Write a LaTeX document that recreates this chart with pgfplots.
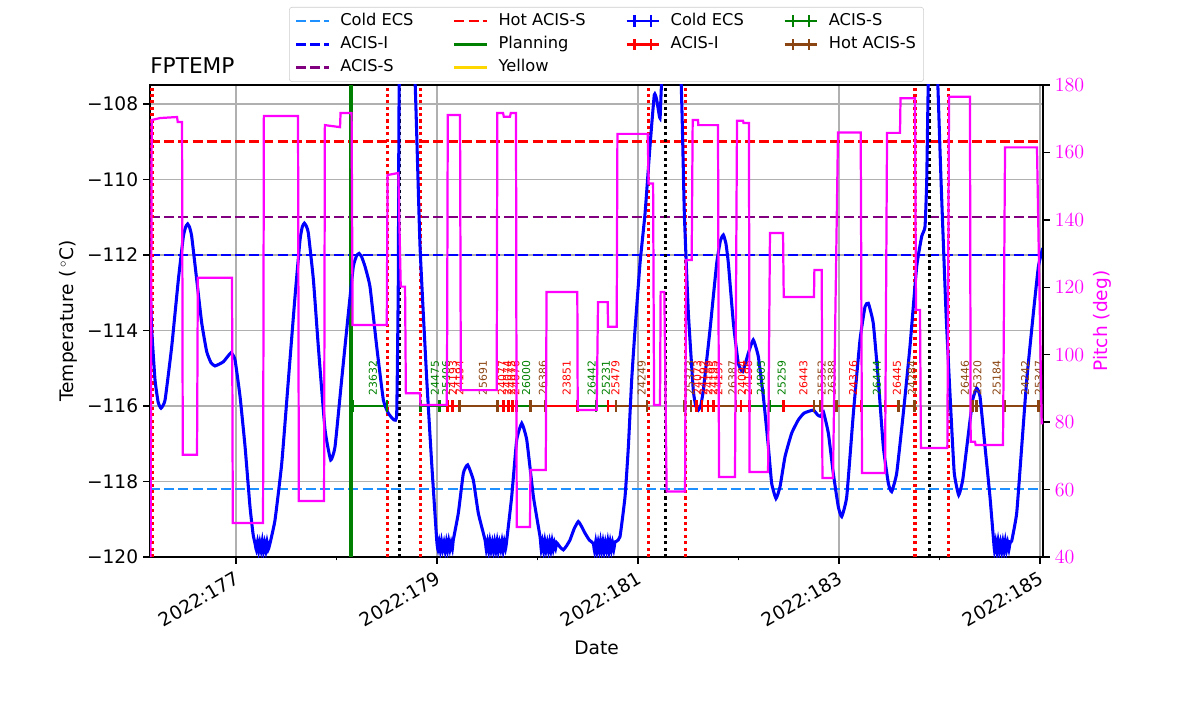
\documentclass[border=0pt]{standalone}
\usepackage{fontspec}
\setmainfont{DejaVu Sans}
\usepackage{pgfplots}
\pgfplotsset{compat=1.18}
\definecolor{mgreen}{HTML}{008000}
\definecolor{mbrown}{HTML}{8B4513}
\definecolor{dodger}{HTML}{1E90FF}
\definecolor{mpurple}{HTML}{800080}
\definecolor{mgold}{HTML}{FFD700}
\definecolor{gridgray}{HTML}{B0B0B0}
\definecolor{mmag}{HTML}{FF00FF}
\pgfplotsset{
  limline/.style={legend image code/.code={\draw[##1] (0pt,0pt) -- (23.4pt,0pt);}},
  ebleg/.style={legend image code/.code={\draw[##1,line width=1.8pt] (0pt,0pt) -- (23.4pt,0pt);
      \draw[##1,line width=1.8pt] (5.8pt,-4.2pt) -- (5.8pt,4.2pt) (17.6pt,-4.2pt) -- (17.6pt,4.2pt);}},
  obs/.style={line width=1.8pt, mark=|, mark size=4.2pt, mark options={solid,line width=1.8pt}, unbounded coords=jump, forget plot},
  obslab/.style={only marks, mark=none, point meta=explicit symbolic, nodes near coords, forget plot,
      every node near coord/.style={rotate=90, anchor=west, inner sep=0pt, font=\fontsize{7.8}{9}\selectfont, text=#1}},
}
\begin{document}
\begin{tikzpicture}
\begin{axis}[
  scale only axis, width=642.96pt, height=339.84pt, at={(0,0)}, anchor=south west,
  xmin=176.144, xmax=185.03, ymin=-120, ymax=-107.5,
  xtick={177,179,181,183,185},
  xticklabels={2022:177,2022:179,2022:181,2022:183,2022:185},
  minor xtick={178,180,182,184},
  ytick={-120,-118,-116,-114,-112,-110,-108},
  yticklabels={−120,−118,−116,−114,−112,−110,−108},
  xtick pos=bottom, ytick pos=left,
  tick align=outside, major tick length=5pt, minor tick length=2.5pt,
  tick style={black, line width=1.1pt},
  axis line style={line width=1.1pt},
  grid=major, major grid style={gridgray, line width=1.1pt},
  ticklabel style={font=\fontsize{13.4}{16}\selectfont},
  xticklabel style={rotate=30, anchor=north east},
  label style={font=\fontsize{13.4}{16}\selectfont},
  xlabel={Date}, ylabel={Temperature (\,$^\circ$C)},
  xlabel style={yshift=-2pt},
  title={FPTEMP},
  title style={at={(0,1)}, anchor=base west, yshift=2.6pt, inner sep=0pt, font=\fontsize{15.6}{18}\selectfont},
  legend columns=4,
  legend cell align=left,
  legend style={at={(0.5112,1.1653)}, anchor=north, draw=black!20, rounded corners=2pt,
     font=\fontsize{11.7}{14}\selectfont, row sep=2.6pt, inner xsep=4pt, inner ysep=3pt,
     nodes={inner sep=1.5pt, text height=8.7pt, text depth=2.4pt},
     /tikz/every even column/.append style={column sep=27pt},
     /tikz/every odd column/.append style={column sep=6pt}},
]
% legend (column-major order of the reference, written row by row)
\addlegendimage{limline, dodger, line width=1.8pt, dash pattern=on 7.2pt off 3pt}
\addlegendentry{Cold ECS}
\addlegendimage{limline, red, line width=1.8pt, dash pattern=on 7.2pt off 3pt}
\addlegendentry{Hot ACIS-S}
\addlegendimage{ebleg, blue}
\addlegendentry{Cold ECS}
\addlegendimage{ebleg, mgreen}
\addlegendentry{ACIS-S}
\addlegendimage{limline, blue, line width=1.8pt, dash pattern=on 7.2pt off 3pt}
\addlegendentry{ACIS-I}
\addlegendimage{limline, mgreen, line width=1.8pt}
\addlegendentry{Planning}
\addlegendimage{ebleg, red}
\addlegendentry{ACIS-I}
\addlegendimage{ebleg, mbrown}
\addlegendentry{Hot ACIS-S}
\addlegendimage{limline, mpurple, line width=1.8pt, dash pattern=on 7.2pt off 3pt}
\addlegendentry{ACIS-S}
\addlegendimage{limline, mgold, line width=1.8pt}
\addlegendentry{Yellow}
\addlegendimage{empty legend}
\addlegendentry{}
\addlegendimage{empty legend}
\addlegendentry{}

% limit lines
\addplot[forget plot, dodger, line width=1.9pt, dash pattern=on 7.2pt off 3pt] coordinates {(176.144,-118.2) (185.03,-118.2)};
\addplot[forget plot, blue, line width=1.9pt, dash pattern=on 7.2pt off 3pt] coordinates {(176.144,-112) (185.03,-112)};
\addplot[forget plot, mpurple, line width=1.9pt, dash pattern=on 7.2pt off 3pt] coordinates {(176.144,-111) (185.03,-111)};
\addplot[forget plot, red, line width=1.9pt, dash pattern=on 7.2pt off 3pt] coordinates {(176.144,-109) (185.03,-109)};

% vertical lines
\addplot[forget plot, mgreen, line width=2.2pt] coordinates {(178.144,-120) (178.144,-107.5)};
\addplot[forget plot, red, line width=2.2pt, dash pattern=on 2.2pt off 2.4pt, unbounded coords=jump] coordinates {
 (176.164,-120) (176.164,-107.5) (176.164,nan)
 (178.507,-120) (178.507,-107.5) (178.507,nan)
 (178.836,-120) (178.836,-107.5) (178.836,nan)
 (181.100,-120) (181.100,-107.5) (181.100,nan)
 (181.468,-120) (181.468,-107.5) (181.468,nan)
 (183.756,-120) (183.756,-107.5) (183.756,nan)
 (184.085,-120) (184.085,-107.5)};
\addplot[forget plot, black, line width=2.2pt, dash pattern=on 2.2pt off 2.4pt, unbounded coords=jump] coordinates {
 (178.622,-120) (178.622,-107.5) (178.622,nan)
 (181.269,-120) (181.269,-107.5) (181.269,nan)
 (183.905,-120) (183.905,-107.5)};

% obsid segments
\addplot[obs, mgreen] coordinates {
 (178.161,-116) (178.500,-116) (178.5,nan)
 (178.838,-116) (179.023,-116) (179.102,-116) (179.102,nan)
 (179.793,-116) (179.932,-116) (179.932,nan)
 (180.396,-116) (180.582,-116) (180.699,-116) (180.699,nan)
 (182.107,-116) (182.306,-116) (182.446,-116) (182.446,nan)
 (183.226,-116) (183.458,-116)};
\addplot[obs, red] coordinates {
 (179.102,-116) (179.156,-116) (179.222,-116) (179.222,nan)
 (179.600,-116) (179.660,-116) (179.709,-116) (179.753,-116) (179.793,-116) (179.793,nan)
 (180.075,-116) (180.396,-116) (180.396,nan)
 (180.699,-116) (180.781,-116) (180.781,nan)
 (181.527,-116) (181.583,-116) (181.639,-116) (181.694,-116) (181.750,-116) (181.806,-116) (181.806,nan)
 (181.975,-116) (182.025,-116) (182.107,-116) (182.107,nan)
 (182.446,-116) (182.751,-116) (182.751,nan)
 (182.977,-116) (183.226,-116) (183.226,nan)
 (183.458,-116) (183.590,-116)};
\addplot[obs, mbrown] coordinates {
 (179.222,-116) (179.600,-116) (179.600,nan)
 (179.932,-116) (180.075,-116) (180.075,nan)
 (180.781,-116) (181.087,-116) (181.087,nan)
 (181.458,-116) (181.527,-116) (181.527,nan)
 (181.806,-116) (181.975,-116) (181.975,nan)
 (182.751,-116) (182.811,-116) (182.977,-116) (182.977,nan)
 (183.590,-116) (183.749,-116) (183.749,nan)
 (184.085,-116) (184.328,-116) (184.370,-116) (184.652,-116) (184.983,-116) (185.03,-116)};

% obsid labels
\addplot[obslab=mgreen] table[meta=label] {
x y label
178.363 -115.72 23632
178.980 -115.72 24475
179.090 -115.72 25406
179.886 -115.72 26000
180.539 -115.72 26442
180.682 -115.72 25231
182.224 -115.72 24805
182.430 -115.72 25259
183.378 -115.72 26444
};
\addplot[obslab=red] table[meta=label] {
x y label
179.159 -115.72 24193
179.224 -115.72 24194
179.647 -115.72 24077
179.697 -115.72 24074
179.741 -115.72 24075
179.781 -115.72 24076
180.291 -115.72 23851
180.776 -115.72 25479
181.592 -115.72 24073
181.652 -115.72 24192
181.701 -115.72 24189
181.751 -115.72 24195
181.801 -115.72 24197
182.035 -115.72 24094
182.095 -115.72 24196
182.645 -115.72 26443
183.142 -115.72 24376
183.577 -115.72 26445
};
\addplot[obslab=mbrown] table[meta=label] {
x y label
179.458 -115.72 25691
180.055 -115.72 26386
181.037 -115.72 24249
181.517 -115.72 25373
181.940 -115.72 26387
182.828 -115.72 25352
182.930 -115.72 26388
183.726 -115.72 24284
184.254 -115.72 26446
184.378 -115.72 25320
184.569 -115.72 25184
184.851 -115.72 24242
184.990 -115.72 25347
};

% FPTEMP model
\addplot[forget plot, blue, line width=2.2pt, smooth, tension=0.25] coordinates {
(176.144,-112.66) (176.161,-113.99) (176.194,-115.31) (176.225,-115.90) (176.254,-116.06) (176.294,-115.84)
(176.360,-114.43) (176.426,-112.66) (176.476,-111.51) (176.500,-111.25) (176.519,-111.18) (176.538,-111.27) (176.559,-111.51) (176.609,-112.66)
(176.659,-113.81) (176.708,-114.56) (176.750,-114.85) (176.791,-114.94) (176.874,-114.83) (176.950,-114.59) (176.990,-114.78)
(177.040,-115.75) (177.090,-117.08) (177.139,-118.67) (177.170,-119.40) (177.189,-119.64)
(177.201,-119.80) (177.213,-119.60) (177.225,-119.84) (177.237,-119.62) (177.249,-119.82) (177.261,-119.58)
(177.273,-119.85) (177.285,-119.63) (177.297,-119.83) (177.309,-119.60) (177.321,-119.80) (177.338,-119.64)
(177.388,-119.02) (177.455,-117.52) (177.521,-115.31) (177.587,-113.10) (177.637,-111.60) (177.660,-111.25) (177.680,-111.16)
(177.700,-111.24) (177.720,-111.43) (177.770,-112.66) (177.819,-114.43) (177.886,-116.64) (177.942,-117.43) (177.985,-117.08)
(178.051,-115.31) (178.118,-113.54) (178.167,-112.31) (178.200,-112.02) (178.224,-111.96) (178.250,-112.05) (178.284,-112.31) (178.333,-112.84)
(178.400,-114.43) (178.466,-115.84) (178.515,-116.19) (178.572,-116.37) (178.599,-116.19) (178.615,-112.66)
(178.625,-107.36) (178.700,-103.5) (178.781,-107.36) (178.831,-111.78) (178.898,-115.31) (178.947,-117.52)
(178.997,-119.55)
(179.009,-119.80) (179.021,-119.60) (179.033,-119.83) (179.045,-119.58) (179.057,-119.80) (179.069,-119.62)
(179.081,-119.84) (179.093,-119.60) (179.105,-119.82) (179.117,-119.58) (179.129,-119.80) (179.141,-119.62)
(179.153,-119.78) (179.162,-119.55)
(179.212,-118.84) (179.262,-117.78) (179.305,-117.56) (179.361,-117.96) (179.411,-118.84) (179.478,-119.55)
(179.490,-119.80) (179.502,-119.60) (179.514,-119.84) (179.526,-119.58) (179.538,-119.82) (179.550,-119.62)
(179.562,-119.85) (179.574,-119.60) (179.586,-119.82) (179.598,-119.58) (179.610,-119.84) (179.622,-119.62)
(179.634,-119.80) (179.646,-119.58) (179.658,-119.83) (179.670,-119.60) (179.682,-119.78) (179.694,-119.55)
(179.743,-118.40) (179.793,-116.90) (179.843,-116.46) (179.893,-116.90) (179.959,-118.40) (180.025,-119.46)
(180.037,-119.80) (180.049,-119.60) (180.061,-119.84) (180.073,-119.58) (180.085,-119.82) (180.097,-119.62)
(180.109,-119.84) (180.121,-119.60) (180.133,-119.82) (180.145,-119.58) (180.157,-119.80) (180.169,-119.62)
(180.181,-119.76) (180.191,-119.62)
(180.225,-119.74) (180.257,-119.81) (180.290,-119.70) (180.323,-119.55) (180.365,-119.25) (180.406,-119.06)
(180.440,-119.20) (180.473,-119.37) (180.515,-119.55) (180.555,-119.64)
(180.567,-119.84) (180.579,-119.60) (180.591,-119.85) (180.603,-119.62) (180.615,-119.84) (180.627,-119.58)
(180.639,-119.83) (180.651,-119.60) (180.663,-119.85) (180.675,-119.62) (180.687,-119.82) (180.699,-119.58)
(180.711,-119.84) (180.723,-119.60) (180.735,-119.82) (180.747,-119.62) (180.759,-119.80) (180.771,-119.60)
(180.788,-119.58)
(180.821,-119.46) (180.871,-118.40) (180.904,-117.08) (180.937,-115.31) (180.970,-113.99) (181.020,-112.22)
(181.070,-110.90) (181.119,-109.13) (181.162,-107.76) (181.186,-107.89) (181.219,-108.38) (181.236,-107.36)
(181.330,-103.5) (181.428,-107.36) (181.461,-110.90) (181.501,-113.54) (181.550,-115.58) (181.575,-116.00) (181.600,-116.11)
(181.625,-115.98) (181.650,-115.58) (181.716,-113.99) (181.783,-112.22) (181.820,-111.62) (181.849,-111.47) (181.875,-111.70) (181.899,-112.22) (181.949,-113.81)
(181.998,-114.87) (182.042,-115.09) (182.098,-114.60) (182.147,-114.25) (182.197,-114.69) (182.247,-115.75)
(182.297,-117.08) (182.330,-118.05) (182.373,-118.45) (182.413,-118.14) (182.463,-117.34) (182.529,-116.72)
(182.595,-116.37) (182.652,-116.19) (182.744,-116.11) (182.788,-116.24) (182.821,-116.28) (182.844,-116.15)
(182.894,-116.72) (182.943,-117.78) (182.993,-118.67) (183.027,-118.93) (183.077,-118.40) (183.143,-116.19)
(183.209,-114.25) (183.259,-113.37) (183.292,-113.28) (183.341,-113.81) (183.391,-115.31) (183.441,-117.08)
(183.491,-118.05) (183.524,-118.27) (183.574,-117.78) (183.640,-116.19) (183.706,-114.43) (183.773,-112.31)
(183.823,-111.51) (183.856,-111.25) (183.873,-110.01) (183.889,-107.36) (183.935,-103.5) (183.982,-107.36)
(184.015,-110.01) (184.065,-113.54) (184.114,-116.19) (184.147,-117.78) (184.191,-118.36) (184.231,-117.96)
(184.280,-116.90) (184.330,-115.84) (184.370,-115.53) (184.403,-115.75) (184.453,-117.08) (184.502,-118.40)
(184.535,-119.46)
(184.547,-119.82) (184.559,-119.60) (184.571,-119.85) (184.583,-119.58) (184.595,-119.84) (184.607,-119.62)
(184.619,-119.85) (184.631,-119.60) (184.643,-119.83) (184.655,-119.58) (184.667,-119.82) (184.679,-119.62)
(184.691,-119.80) (184.703,-119.60) (184.718,-119.58)
(184.768,-118.84) (184.818,-117.08) (184.868,-115.31) (184.934,-113.54) (184.984,-112.31) (185.027,-111.82)
};
\end{axis}

\begin{axis}[
  scale only axis, width=642.96pt, height=339.84pt, at={(0,0)}, anchor=south west,
  xmin=176.144, xmax=185.03, ymin=40, ymax=180,
  axis x line=none, axis y line*=right, xtick=\empty,
  ytick={40,60,80,100,120,140,160,180},
  tick align=outside, major tick length=5pt,
  tick style={black, line width=1.1pt},
  axis line style={line width=1.1pt},
  yticklabel style={font=\fontsize{13.4}{16}\selectfont, text=mmag},
  ylabel={Pitch (deg)},
  ylabel style={font=\fontsize{13.4}{16}\selectfont, text=mmag},
]
\addplot[mmag, line width=1.6pt] coordinates {
(176.150,40) (176.161,169.6) (176.244,170.2) (176.413,170.5) (176.420,169.0) (176.463,169.0) (176.470,70.3)
(176.612,70.3) (176.620,122.8) (176.960,122.8) (176.968,50.1) (177.269,50.1) (177.277,170.8) (177.617,170.8)
(177.625,56.6) (177.876,56.6) (177.884,168.1) (178.035,167.5) (178.040,171.7) (178.150,171.7) (178.160,108.8)
(178.500,108.8) (178.508,153.3) (178.615,153.9) (178.639,120.2) (178.682,120.2) (178.690,88.6) (178.831,88.6)
(178.835,85.1) (179.097,85.1) (179.100,99.0) (179.107,171.1) (179.229,171.1) (179.237,89.5) (179.594,89.5)
(179.600,171.7) (179.657,171.7) (179.665,170.6) (179.726,170.6) (179.734,171.7) (179.786,171.7) (179.793,48.9)
(179.925,48.9) (179.930,65.8) (180.082,65.8) (180.090,118.6) (180.396,118.6) (180.400,83.6) (180.589,83.6)
(180.602,115.6) (180.698,115.6) (180.702,108.3) (180.788,108.3) (180.795,165.5) (181.097,165.5) (181.105,150.8)
(181.150,150.8) (181.160,85.1) (181.219,85.1) (181.225,118.6) (181.262,118.6) (181.285,59.4) (181.468,59.4)
(181.478,128.1) (181.534,128.1) (181.544,169.6) (181.597,169.6) (181.600,168.1) (181.796,168.1) (181.806,63.7)
(181.965,63.7) (181.985,169.4) (182.045,169.4) (182.050,168.7) (182.104,168.7) (182.110,65.2) (182.294,65.2)
(182.313,136.1) (182.443,136.1) (182.450,117.1) (182.751,117.1) (182.755,125.1) (182.828,125.1) (182.835,63.4)
(182.940,63.4) (182.990,165.9) (183.216,165.9) (183.229,64.9) (183.458,64.9) (183.478,165.8) (183.607,165.8)
(183.612,176.1) (183.756,176.1) (183.766,113.3) (183.806,113.3) (183.815,72.3) (184.078,72.3) (184.095,176.5)
(184.303,176.5) (184.310,74.2) (184.353,74.2) (184.360,73.2) (184.632,73.2) (184.652,161.5) (184.970,161.5)
(185.017,79.7) (185.03,79.7)
};
\end{axis}
\pgfresetboundingbox
\useasboundingbox (-108pt,-113.04pt) rectangle (756pt,401.04pt);
\end{tikzpicture}
\end{document}
